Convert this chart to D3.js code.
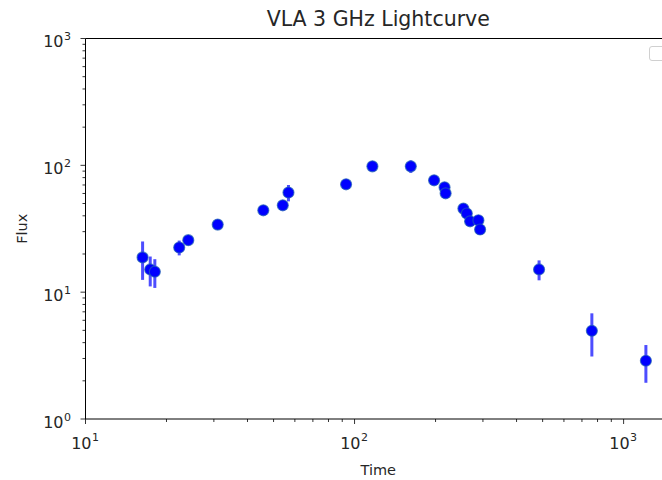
<!DOCTYPE html>
<html><head><meta charset="utf-8">
<script src="https://cdn.jsdelivr.net/npm/d3@7"></script>
<style>body{margin:0;background:#fff}svg{display:block}text{font-family:"DejaVu Sans",sans-serif;fill:#262626}</style>
</head><body><svg id="c" width="662" height="480"></svg>
<script>
const times = [16.3,17.4,18.1,22.3,24.1,31.0,45.8,54.1,56.8,93.0,116.5,161.8,197.5,216,218,253.8,261.3,268.8,288.6,292.8,485,762,1210];
const fluxes = [18.8,15.1,14.5,22.5,25.7,34.1,44.2,48.4,61.0,70.9,98.2,98.2,76.2,67.1,60.2,45.6,41.7,36.2,36.9,31.2,15.1,4.96,2.88];
const errors = [6.3,4.0,3.7,3.0,1.5,1.5,1.5,4.0,9.0,2.0,3.0,11.0,3.0,3.0,3.0,4.0,2.0,2.0,2.0,2.0,2.7,1.85,0.95];
const xTickLabels = ["1","2","3"];
const yTickLabels = ["0","1","2","3"];

const svg = d3.select("#c");
const L=85.5, R=671, T=38.5, B=419;
const x = d3.scaleLog().domain([10,1500]).range([L,R]);
const y = d3.scaleLog().domain([1,1000]).range([B,T]);

const g = svg.append("g");
g.append("line").attr("x1",L).attr("x2",R).attr("y1",T).attr("y2",T).attr("stroke","#000").attr("stroke-width",1);
g.append("line").attr("x1",L).attr("x2",R).attr("y1",B).attr("y2",B).attr("stroke","#000").attr("stroke-width",1);
g.append("line").attr("x1",L).attr("x2",L).attr("y1",T).attr("y2",B).attr("stroke","#000").attr("stroke-width",1);

const xMajor = xTickLabels.map(e=>Math.pow(10,+e));
const xMinor = [];
[10,100,1000].forEach(d=>{for(let k=2;k<=9;k++){const v=d*k; if(v<=1500) xMinor.push(v);}});
xMinor.forEach(v=>g.append("line").attr("x1",x(v)).attr("x2",x(v)).attr("y1",B).attr("y2",B+3).attr("stroke","#000").attr("stroke-width",0.8));
xMajor.forEach((v,i)=>{
  g.append("line").attr("x1",x(v)).attr("x2",x(v)).attr("y1",B).attr("y2",B+5).attr("stroke","#000").attr("stroke-width",0.8);
  g.append("text").attr("x",x(v)+6).attr("y",B+29.5).attr("text-anchor","end").attr("font-size",16).text("10");
  g.append("text").attr("x",x(v)+6.5).attr("y",B+22).attr("text-anchor","start").attr("font-size",11).text(xTickLabels[i]);
});
const yMajor = yTickLabels.map(e=>Math.pow(10,+e));
const yMinor = [];
[1,10,100].forEach(d=>{for(let k=2;k<=9;k++) yMinor.push(d*k);});
yMinor.forEach(v=>g.append("line").attr("x1",L-3).attr("x2",L).attr("y1",y(v)).attr("y2",y(v)).attr("stroke","#000").attr("stroke-width",0.8));
yMajor.forEach((v,i)=>{
  g.append("line").attr("x1",L-5).attr("x2",L).attr("y1",y(v)).attr("y2",y(v)).attr("stroke","#000").attr("stroke-width",0.8);
  g.append("text").attr("x",L-22).attr("y",y(v)+8.5).attr("text-anchor","end").attr("font-size",16).text("10");
  g.append("text").attr("x",L-21.5).attr("y",y(v)+1.5).attr("text-anchor","start").attr("font-size",11).text(yTickLabels[i]);
});

svg.append("text").attr("x",(L+R)/2).attr("y",26).attr("text-anchor","middle").attr("font-size",20.5).text("VLA 3 GHz Lightcurve");
svg.append("text").attr("x",(L+R)/2).attr("y",475).attr("text-anchor","middle").attr("font-size",14.5).text("Time");
svg.append("text").attr("transform",`translate(27,${(T+B)/2}) rotate(-90)`).attr("text-anchor","middle").attr("font-size",14.5).text("Flux");

svg.append("rect").attr("x",649.5).attr("y",46.5).attr("width",22).attr("height",14).attr("rx",2.5).attr("fill","#fff").attr("stroke","#d0d0d0").attr("stroke-width",1);

const data = times.map((t,i)=>({t,f:fluxes[i],e:errors[i]}));
const pg = svg.append("g");
pg.selectAll("line.err").data(data).join("line").attr("class","err")
  .attr("x1",d=>x(d.t)).attr("x2",d=>x(d.t))
  .attr("y1",d=>y(d.f+d.e)).attr("y2",d=>y(Math.max(d.f-d.e,1.01)))
  .attr("stroke","#2020ff").attr("stroke-opacity",0.8).attr("stroke-width",3);
pg.selectAll("circle").data(data).join("circle")
  .attr("cx",d=>x(d.t)).attr("cy",d=>y(d.f)).attr("r",5.5)
  .attr("fill","#0000ff").attr("stroke","#1f60b4").attr("stroke-width",1.2).attr("stroke-opacity",0.7);
</script></body></html>
